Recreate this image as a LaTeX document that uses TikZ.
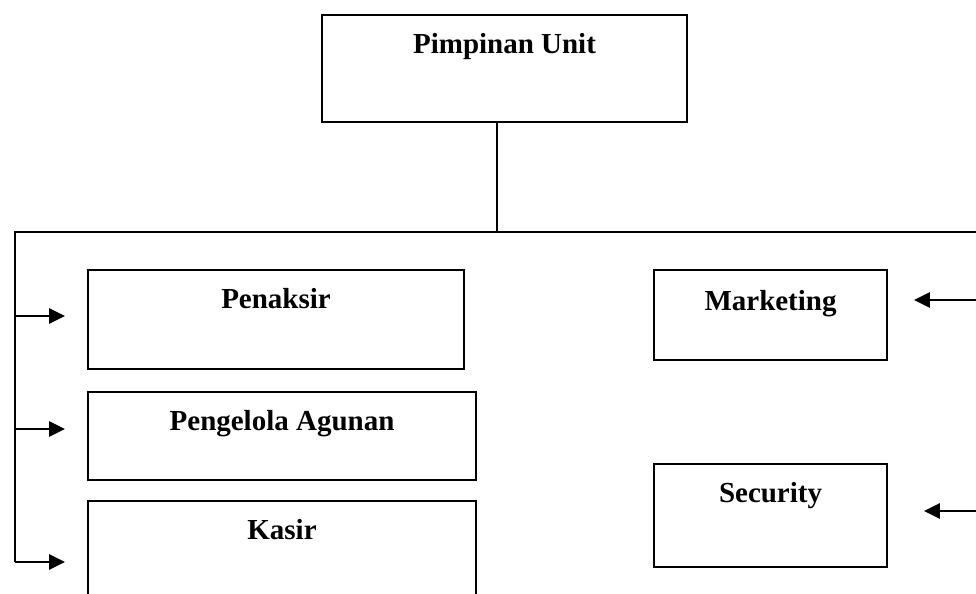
\documentclass[tikz,border=0pt]{standalone}
\usepackage{fontspec}
\setmainfont{Liberation Serif}
\usetikzlibrary{arrows.meta,positioning}

\begin{document}
\begin{tikzpicture}[x=0.02cm,y=-0.02cm,
    box/.style = {draw, line width=1.2pt, anchor=north west, inner sep=0pt},
    title/.style = {font=\fontsize{16.5}{20}\selectfont\bfseries, inner sep=0pt},
    link/.style = {line width=1pt},
    arr/.style = {line width=1.5pt, -{Triangle[length=9pt,width=8.5pt]}}]
      \useasboundingbox (0,0) rectangle (976,593);

      % boxes
      \node[box, minimum width=7.3cm, minimum height=2.14cm] (pu) at (321,14) {};
      \node[box, minimum width=7.52cm, minimum height=1.98cm] (pk) at (87,269) {};
      \node[box, minimum width=7.76cm, minimum height=1.76cm] (pa) at (87,391) {};
      \node[box, minimum width=7.76cm, minimum height=2.6cm] (ks) at (87,500) {};
      \node[box, minimum width=4.66cm, minimum height=1.8cm] (mk) at (653,269) {};
      \node[box, minimum width=4.66cm, minimum height=2.06cm] (sc) at (653,463) {};

      % titles
      \node[title, below=0.38cm of pu.north] (t1) {Pimpinan Unit};
      \node[title, below=0.38cm of pk.north] (t2) {Penaksir};
      \node[title, below=0.38cm of pa.north] (t3) {Pengelola Agunan};
      \node[title, below=0.38cm of ks.north] (t4) {Kasir};
      \node[title, below=0.42cm of mk.north] (t5) {Marketing};
      \node[title, below=0.38cm of sc.north] (t6) {Security};

      % lines
      \coordinate (j) at (497,232);
      \coordinate (l0) at (15,232);
      \coordinate (r0) at (980,232);
      \coordinate (l1) at (15,316);
      \coordinate (l2) at (15,429);
      \coordinate (l3) at (15,562);
      \coordinate (a1) at (65,316);
      \coordinate (a2) at (65,429);
      \coordinate (a3) at (65,562);
      \coordinate (r1) at (980,300);
      \coordinate (r2) at (980,511);
      \coordinate (b1) at (914,300);
      \coordinate (b2) at (924,511);

      \draw[link] (pu.south -| j) -- (j);
      \draw[link] (r0) -- (l0) -- (l3);

      \path
      (l1) edge[arr] (a1)
      (l2) edge[arr] (a2)
      (l3) edge[arr] (a3)
      (r1) edge[arr] (b1)
      (r2) edge[arr] (b2)
      ;

    \end{tikzpicture}
\end{document}
